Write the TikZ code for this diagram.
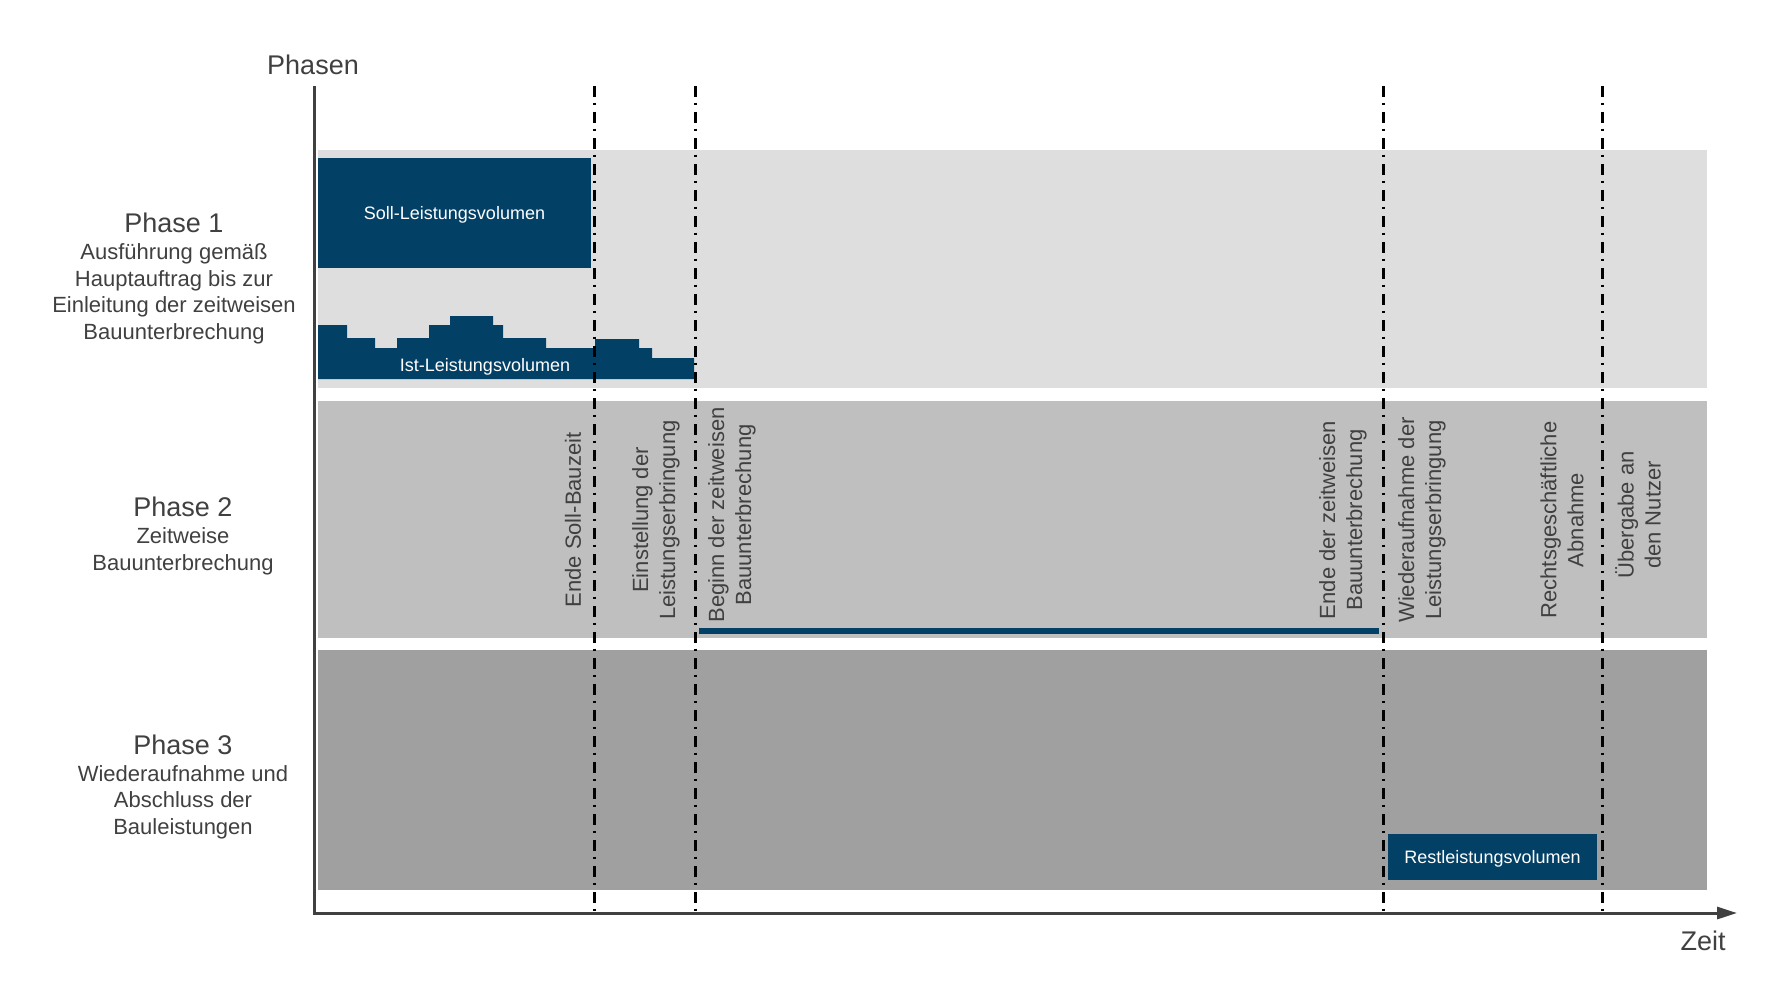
\documentclass[tikz,border=0pt]{standalone}
\usepackage{fontspec}
\setmainfont{Liberation Sans}
\usetikzlibrary{arrows.meta}
\definecolor{navy}{RGB}{2,64,102}
\definecolor{txtgray}{RGB}{64,64,64}
\definecolor{bandone}{RGB}{222,222,222}
\definecolor{bandtwo}{RGB}{191,191,191}
\definecolor{bandthree}{RGB}{160,160,160}
\pgfdeclarelayer{bandlayer}
\pgfdeclarelayer{linelayer}
\pgfsetlayers{bandlayer,main,linelayer}
\tikzstyle{axis}=[draw=txtgray, line width=1.5pt]
\tikzstyle{milestone}=[draw=black, line width=1.5pt, dash pattern=on 5.5pt off 2.75pt on 1pt off 3.75pt]
\tikzstyle{volume}=[rectangle, fill=navy, draw=none, text=white, text depth=0pt, font=\fontsize{9}{11}\selectfont]
\tikzstyle{eventlabel}=[rotate=90, align=center, text=txtgray, font=\fontsize{11}{13.5}\selectfont, inner sep=0pt]
\tikzstyle{phasehead}=[text=txtgray, font=\fontsize{13.5}{16}\selectfont, inner sep=0pt]
\tikzstyle{phasetext}=[align=center, text=txtgray, font=\fontsize{11}{13.25}\selectfont, inner sep=0pt]

\begin{document}
\begin{tikzpicture}[x=0.5pt, y=-0.5pt]
            \useasboundingbox (0,0) rectangle (1780,986);
            \begin{pgfonlayer}{bandlayer}
                \fill [bandone] (318,150) rectangle (1707,388);
                \fill [bandtwo] (318,401) rectangle (1707,638);
                \fill [bandthree] (318,650) rectangle (1707,890);
            \end{pgfonlayer}

            \coordinate (origin) at (314,913);
            \coordinate (ytop) at (314,86);
            \coordinate (xend) at (1737,913);
            \draw [style=axis, -{Triangle[length=10pt,width=6pt]}] (ytop) -- (origin) -- (xend);
            \node [style=phasehead, anchor=base] (phasen) at (313,74) {Phasen};
            \node [style=phasehead, anchor=base] (zeit) at (1703,950) {Zeit};

            \node [style=phasehead, anchor=base] (ph1) at (174,232) {Phase 1};
            \node [style=phasetext, anchor=base] (ph1txt) at (174,339) {Ausführung gemäß\\Hauptauftrag bis zur\\Einleitung der zeitweisen\\Bauunterbrechung};
            \node [style=phasehead, anchor=base] (ph2) at (183,516) {Phase 2};
            \node [style=phasetext, anchor=base] (ph2txt) at (183,570) {Zeitweise\\Bauunterbrechung};
            \node [style=phasehead, anchor=base] (ph3) at (183,754) {Phase 3};
            \node [style=phasetext, anchor=base] (ph3txt) at (183,834) {Wiederaufnahme und\\Abschluss der\\Bauleistungen};

            \node [style=volume, minimum width=136.5pt, minimum height=55pt] (soll) at (454.5,213) {Soll-Leistungsvolumen};
            \fill [navy] (318,379) -- (318,325) -- (347,325) -- (347,338) -- (375,338) -- (375,348)
                -- (397,348) -- (397,338) -- (429,338) -- (429,325) -- (450,325) -- (450,316)
                -- (493,316) -- (493,325) -- (503,325) -- (503,338) -- (546,338) -- (546,348)
                -- (595,348) -- (595,339) -- (639,339) -- (639,348) -- (652,348) -- (652,358)
                -- (694,358) -- (694,379) -- cycle;
            \node [text=white, text depth=0pt, font=\fontsize{9}{11}\selectfont] (ist) at (485,365) {Ist-Leistungsvolumen};
            \fill [navy] (699,628) rectangle (1379,634);
            \node [style=volume, minimum width=104.5pt, minimum height=23pt] (rest) at (1492.5,857) {Restleistungsvolumen};

            \node [style=eventlabel] (endesoll) at (573,520) {Ende Soll-Bauzeit};
            \node [style=eventlabel] (einstellung) at (656,520) {Einstellung der\\Leistungserbringung};
            \node [style=eventlabel] (beginn) at (732,515) {Beginn der zeitweisen\\Bauunterbrechung};
            \node [style=eventlabel] (ende) at (1343,520) {Ende der zeitweisen\\Bauunterbrechung};
            \node [style=eventlabel] (wieder) at (1422,520) {Wiederaufnahme der\\Leistungserbringung};
            \node [style=eventlabel] (abnahme) at (1562,520) {Rechtsgeschäftliche\\Abnahme};
            \node [style=eventlabel] (uebergabe) at (1638,515) {Übergabe an\\den Nutzer};

            \begin{pgfonlayer}{linelayer}
                \coordinate (m1top) at (594,86);
                \coordinate (m1bot) at (594,913);
                \coordinate (m2top) at (695,86);
                \coordinate (m2bot) at (695,913);
                \coordinate (m3top) at (1383,86);
                \coordinate (m3bot) at (1383,913);
                \coordinate (m4top) at (1602,86);
                \coordinate (m4bot) at (1602,913);
                \draw [style=milestone] (m1top) -- (m1bot);
                \draw [style=milestone] (m2top) -- (m2bot);
                \draw [style=milestone] (m3top) -- (m3bot);
                \draw [style=milestone] (m4top) -- (m4bot);
            \end{pgfonlayer}
        \end{tikzpicture}
\end{document}
